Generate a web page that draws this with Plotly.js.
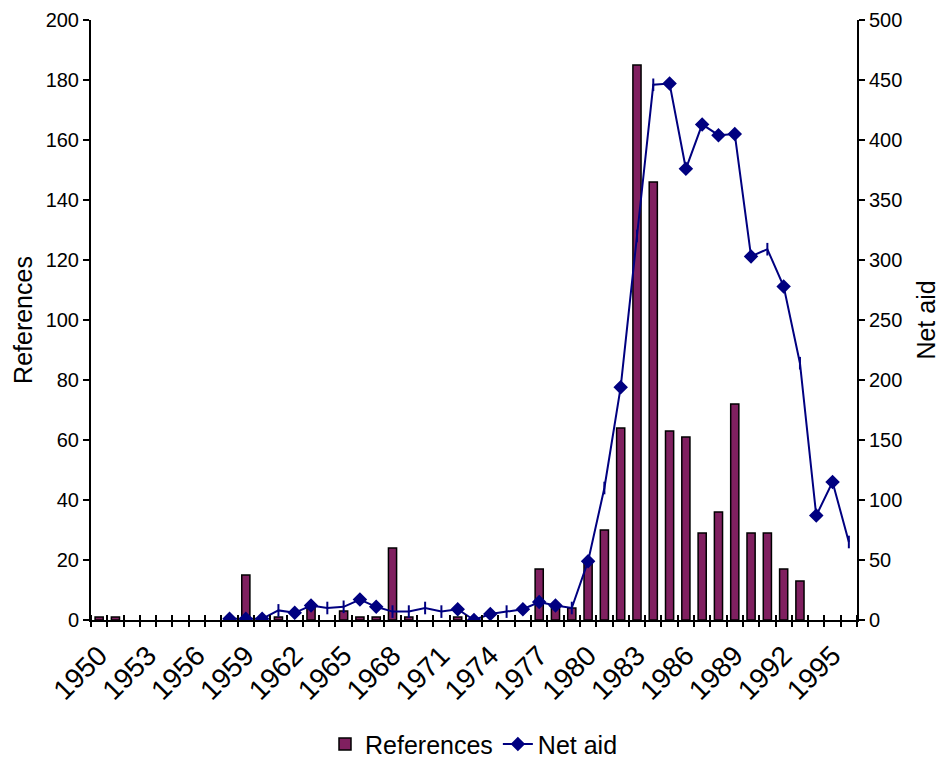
<!DOCTYPE html>
<html>
<head>
<meta charset="utf-8">
<script src="https://cdn.plot.ly/plotly-3.0.1.min.js"></script>
<style>html,body{margin:0;padding:0;background:#fff;}#chart{width:943px;height:763px;}</style>
</head>
<body>
<div id="chart"></div>
<script>
// Years (categories) 1950-1996
const years = [1950,1951,1952,1953,1954,1955,1956,1957,1958,1959,1960,1961,1962,1963,1964,1965,1966,1967,1968,1969,1970,1971,1972,1973,1974,1975,1976,1977,1978,1979,1980,1981,1982,1983,1984,1985,1986,1987,1988,1989,1990,1991,1992,1993,1994,1995,1996];
// Number of references per year
const references = [1,1,0,0,0,0,0,0,0,15,0,1,0,4,0,3,1,1,24,1,0,0,1,0,0,0,0,17,4,4,20,30,64,185,146,63,61,29,36,72,29,29,17,13,0,0,0];
// Net aid (1958-1996)
const aidYears = [1958,1959,1960,1961,1962,1963,1964,1965,1966,1967,1968,1969,1970,1971,1972,1973,1974,1975,1976,1977,1978,1979,1980,1981,1982,1983,1984,1985,1986,1987,1988,1989,1990,1991,1992,1993,1994,1995,1996];
const netAid = [1,1,1,8,6,12,10,11,17,11,7,7,10,7,9,0,5,7,9,15,12,10,49,110,194,320,446,447,376,413,404,405,303,309,278,214,87,115,65];
// Tick labels on the category axis
const labelYears = [1950,1953,1956,1959,1962,1965,1968,1971,1974,1977,1980,1983,1986,1989,1992,1995];
const labelText = labelYears.map(String);
// Years whose marker appears as a small vertical dash in the original
const dashYears = [1961,1964,1965,1968,1969,1970,1971,1975,1979,1981,1983,1984,1991,1993,1996];

const symbols = aidYears.map(y => dashYears.includes(y) ? 'line-ns' : 'diamond');
const boundaries = years.map(y => y - 0.5).concat([years[years.length-1] + 0.5]);
const xr = [years[0] - 0.5, years[years.length-1] + 0.5];
// zero-height bars are not drawn in the original
const refPlot = references.map(v => v === 0 ? null : v);

const FONT = 'Liberation Sans, Arial, sans-serif';

const traces = [
  {
    type: 'bar', name: 'References', x: years, y: refPlot,
    marker: {color: '#802060', line: {color: '#000000', width: 1.5}},
    xaxis: 'x', yaxis: 'y', hoverinfo: 'x+y'
  },
  {
    type: 'scatter', mode: 'lines+markers', name: 'Net aid', x: aidYears, y: netAid,
    line: {color: '#000080', width: 2},
    marker: {symbol: symbols, size: 9, color: '#000080', line: {color: '#000080', width: 2}},
    xaxis: 'x2', yaxis: 'y2'
  }
];

const layout = {
  width: 943, height: 763,
  margin: {l: 91, r: 86, t: 20, b: 143, autoexpand: false},
  paper_bgcolor: '#ffffff', plot_bgcolor: '#ffffff',
  font: {family: FONT, size: 20, color: '#000000'},
  showlegend: true,
  bargap: 0.5,
  legend: {orientation: 'h', x: 0.5, xanchor: 'center', y: -0.207, yanchor: 'middle',
           font: {family: FONT, size: 25, color: '#000'}, traceorder: 'normal'},
  xaxis: {
    type: 'linear', range: xr, tickmode: 'array', tickvals: labelYears, ticktext: labelText,
    tickangle: -45, ticks: '', showgrid: false, zeroline: false, automargin: false,
    ticklabelstandoff: 6,
    showline: true, linecolor: '#000', linewidth: 2,
    tickfont: {family: FONT, size: 28, color: '#000'}
  },
  // category-boundary tick marks crossing the bottom axis line
  xaxis2: {
    type: 'linear', range: xr, overlaying: 'x', anchor: 'free', position: 0.01, side: 'bottom',
    tickmode: 'array', tickvals: boundaries, ticks: 'outside', ticklen: 12, tickwidth: 2, tickcolor: '#000',
    showticklabels: false, showline: false, showgrid: false, zeroline: false, automargin: false
  },
  yaxis: {
    range: [0, 200], tickmode: 'linear', tick0: 0, dtick: 20, automargin: false,
    ticks: 'outside', ticklen: 6, tickwidth: 2, tickcolor: '#000',
    showline: true, linecolor: '#000', linewidth: 2, showgrid: false, zeroline: false,
    tickfont: {family: FONT, size: 20, color: '#000'},
    title: {text: 'References', font: {family: FONT, size: 25, color: '#000'}, standoff: 6}
  },
  yaxis3: {
    range: [0, 200], overlaying: 'y', anchor: 'x', side: 'left', tickmode: 'linear', tick0: 0, dtick: 20,
    ticks: 'inside', ticklen: 6, tickwidth: 2, tickcolor: '#000',
    showticklabels: false, showline: false, showgrid: false, zeroline: false
  },
  yaxis2: {
    range: [0, 500], overlaying: 'y', anchor: 'x', side: 'right', tickmode: 'linear', tick0: 0, dtick: 50,
    ticks: 'outside', ticklen: 6, tickwidth: 2, tickcolor: '#000', automargin: false,
    showline: true, linecolor: '#000', linewidth: 2, showgrid: false, zeroline: false,
    tickfont: {family: FONT, size: 20, color: '#000'},
    title: {text: 'Net aid', font: {family: FONT, size: 25, color: '#000'}, standoff: 16}
  },
  yaxis4: {
    range: [0, 500], overlaying: 'y', anchor: 'x', side: 'right', tickmode: 'linear', tick0: 0, dtick: 50,
    ticks: 'inside', ticklen: 6, tickwidth: 2, tickcolor: '#000',
    showticklabels: false, showline: false, showgrid: false, zeroline: false
  }
};

Plotly.newPlot('chart', traces, layout, {displayModeBar: false, staticPlot: true});
</script>
</body>
</html>
